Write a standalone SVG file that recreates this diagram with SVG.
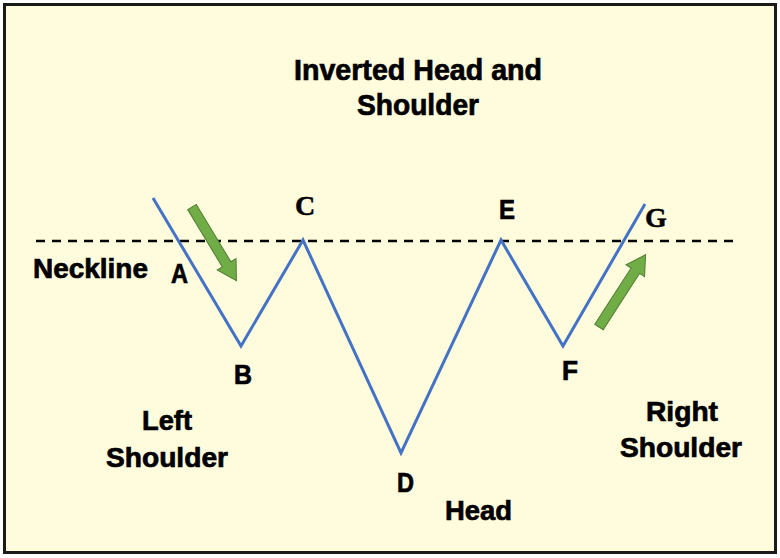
<svg xmlns="http://www.w3.org/2000/svg" width="780" height="558" viewBox="0 0 780 558">
<style>
.t{font-family:"Liberation Sans","DejaVu Sans",sans-serif;font-weight:bold;fill:#000;stroke:#000;stroke-width:0.7;}
.big{font-size:29px;}
.lbl{font-size:28px;}
.pt{font-size:27px;}
.sf{font-family:"Liberation Serif","DejaVu Serif",serif;font-weight:bold;font-size:28px;fill:#000;stroke:#000;stroke-width:0.5;}
.arr{fill:#70AD47;stroke:#507E32;stroke-width:1;}
</style>
<defs>
<polygon id="arrow" points="0,-5 67,-5 67,-11 86,0 67,11 67,5 0,5"/>
</defs>
<rect x="0" y="0" width="780" height="558" fill="#FFFFFF"/>
<rect x="4.5" y="4.5" width="771" height="548" fill="#FFFBDD" stroke="#1a1a1a" stroke-width="3"/>
<g id="title">
<text class="t big" x="418" y="80" text-anchor="middle" textLength="248" lengthAdjust="spacingAndGlyphs">Inverted Head and</text>
<text class="t big" x="418" y="115" text-anchor="middle" textLength="122" lengthAdjust="spacingAndGlyphs">Shoulder</text>
</g>
<g id="connectors">
<line x1="36" y1="241" x2="736" y2="241" stroke="#000" stroke-width="2.5" stroke-dasharray="9,7"/>
<polyline points="153,198 241,346 303,240 401,453 501,240 563,346 645,204" fill="none" stroke="#4472C4" stroke-width="3" stroke-linejoin="miter"/>
</g>
<g id="arrow-down">
<use href="#arrow" class="arr" transform="translate(192,207) rotate(58.9)"/>
</g>
<g id="arrow-up">
<use href="#arrow" class="arr" transform="translate(599,327) rotate(-57.2)"/>
</g>
<g id="neckline">
<text class="t lbl" x="33" y="278" textLength="115" lengthAdjust="spacingAndGlyphs">Neckline</text>
</g>
<g id="A"><text class="t pt" x="171" y="283" textLength="17" lengthAdjust="spacingAndGlyphs">A</text></g>
<g id="B"><text class="t pt" x="234" y="384" textLength="18" lengthAdjust="spacingAndGlyphs">B</text></g>
<g id="C"><text class="sf" x="295" y="215">C</text></g>
<g id="D"><text class="t pt" x="397" y="492" textLength="17" lengthAdjust="spacingAndGlyphs">D</text></g>
<g id="E"><text class="t pt" x="499" y="219" textLength="16" lengthAdjust="spacingAndGlyphs">E</text></g>
<g id="F"><text class="t pt" x="562" y="380" textLength="16" lengthAdjust="spacingAndGlyphs">F</text></g>
<g id="G"><text class="sf" x="645" y="227">G</text></g>
<g id="head"><text class="t lbl" x="445" y="520" textLength="67" lengthAdjust="spacingAndGlyphs">Head</text></g>
<g id="left-shoulder">
<text class="t lbl" x="167" y="430" text-anchor="middle" textLength="50" lengthAdjust="spacingAndGlyphs">Left</text>
<text class="t lbl" x="167" y="467" text-anchor="middle" textLength="122" lengthAdjust="spacingAndGlyphs">Shoulder</text>
</g>
<g id="right-shoulder">
<text class="t lbl" x="682" y="421" text-anchor="middle" textLength="72" lengthAdjust="spacingAndGlyphs">Right</text>
<text class="t lbl" x="681" y="457" text-anchor="middle" textLength="122" lengthAdjust="spacingAndGlyphs">Shoulder</text>
</g>
</svg>
